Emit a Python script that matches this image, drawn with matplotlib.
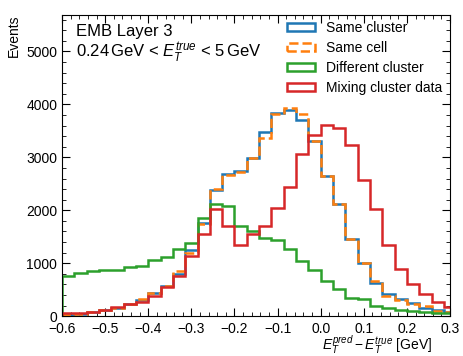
import numpy as np
import matplotlib
matplotlib.use('Agg')
import matplotlib.pyplot as plt
from matplotlib.ticker import AutoMinorLocator

plt.rcParams['font.family'] = ['Liberation Sans', 'DejaVu Sans']
plt.rcParams['mathtext.fontset'] = 'custom'
plt.rcParams['mathtext.rm'] = 'Liberation Sans'
plt.rcParams['mathtext.it'] = 'Liberation Sans:italic'

# bin edges: width 2/70 from -0.6 to just past 0.3
edges = np.arange(-21, 12) / 35

same_cluster = [30, 45, 70, 110, 160, 220, 310, 430, 560, 790, 1240, 1750,
                2380, 2680, 2740, 2995, 3470, 3830, 3895, 3700, 3310, 2650,
                2115, 1455, 995, 620, 420, 330, 250, 160, 110, 80]
same_cell = [30, 45, 70, 115, 160, 220, 330, 445, 570, 850, 1200, 1740,
             2400, 2665, 2730, 2980, 3370, 3820, 3930, 3810, 3300, 2650,
             2120, 1460, 1000, 660, 380, 300, 220, 190, 100, 70]
diff_cluster = [760, 815, 860, 865, 870, 930, 950, 1060, 1120, 1270, 1385, 1850,
                2115, 2090, 1705, 1600, 1485, 1430, 1260, 1050, 880, 670,
                520, 350, 320, 190, 150, 115, 95, 75, 60, 50]
mixing = [50, 63, 80, 125, 165, 222, 270, 380, 555, 750, 1140, 1560,
          2030, 1710, 1335, 1555, 1710, 2035, 2440, 3060, 3430, 3620,
          3555, 3230, 2580, 2020, 1340, 890, 600, 410, 260, 176]

fig = plt.figure(figsize=(4.63, 3.56), dpi=100)
ax = fig.add_axes([0.134, 0.112, 0.838, 0.846])

centers = 0.5 * (edges[:-1] + edges[1:])
ax.hist(centers, bins=edges, weights=same_cluster, histtype='step', lw=1.8,
        color='#1f77b4', label='Same cluster')
ax.hist(centers, bins=edges, weights=same_cell, histtype='step', lw=1.8,
        color='#ff7f0e', linestyle='--', label='Same cell')
ax.hist(centers, bins=edges, weights=diff_cluster, histtype='step', lw=1.8,
        color='#2ca02c', label='Different cluster')
ax.hist(centers, bins=edges, weights=mixing, histtype='step', lw=1.8,
        color='#d62728', label='Mixing cluster data')

ax.set_xlim(-0.6, 0.3)
ax.set_ylim(0, 5690)
ax.set_yticks([0, 1000, 2000, 3000, 4000, 5000])
ax.xaxis.set_minor_locator(AutoMinorLocator())
ax.yaxis.set_minor_locator(AutoMinorLocator())
ax.tick_params(which='both', direction='in', top=True, right=True, labelsize=10)
ax.tick_params(which='major', length=6)
ax.tick_params(which='minor', length=3)
ax.tick_params(axis='x', pad=4)

ax.set_ylabel('Events', fontsize=10, loc='top')
ax.set_xlabel(r'$E_T^{pred} - E_T^{true}$ [GeV]', fontsize=10, ha='right')
ax.xaxis.set_label_coords(0.955, -0.06)

ax.text(0.035, 0.97, 'EMB Layer 3', transform=ax.transAxes, fontsize=12, va='top')
ax.text(0.035, 0.915, r'0.24$\,$GeV < $E_T^{true}$ < 5$\,$GeV', transform=ax.transAxes,
        fontsize=12, va='top')

ax.legend(loc='upper right', bbox_to_anchor=(0.995, 1.0), frameon=False, fontsize=10,
          handlelength=2.0, handleheight=0.5, labelspacing=0.45, borderaxespad=0.0)

fig.savefig('out.png', dpi=100)
